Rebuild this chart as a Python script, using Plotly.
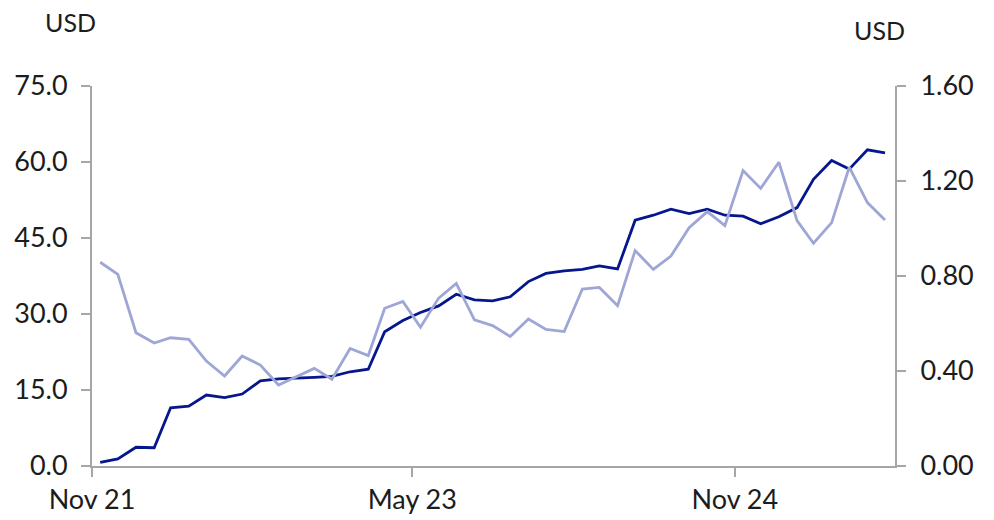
import plotly.graph_objects as go
import pandas as pd

# Monthly data, Nov 2021 - Jul 2025 (points plotted mid-month)
months = pd.date_range("2021-11-01", periods=45, freq="MS") + pd.Timedelta(days=14)

left_series = [0.7, 1.4, 3.7, 3.6, 11.5, 11.8, 14.0, 13.5, 14.2, 16.8,
               17.2, 17.3, 17.5, 17.7, 18.6, 19.1, 26.5, 28.7, 30.3, 31.6,
               33.9, 32.8, 32.6, 33.4, 36.4, 38.0, 38.5, 38.8, 39.5, 38.9,
               48.5, 49.5, 50.7, 49.8, 50.7, 49.5, 49.3, 47.8, 49.2, 51.0,
               56.6, 60.3, 58.6, 62.4, 61.8]

right_series = [0.858, 0.807, 0.561, 0.518, 0.540, 0.533, 0.442, 0.379, 0.463, 0.425,
                0.341, 0.376, 0.411, 0.365, 0.495, 0.465, 0.664, 0.693, 0.584, 0.707,
                0.769, 0.615, 0.591, 0.545, 0.619, 0.575, 0.566, 0.745, 0.752, 0.675,
                0.907, 0.828, 0.884, 1.003, 1.071, 1.012, 1.244, 1.169, 1.279, 1.033,
                0.938, 1.025, 1.258, 1.109, 1.036]

x_tick_vals = ["2021-11-01", "2023-05-01", "2024-11-01"]
x_tick_text = ["Nov 21", "May 23", "Nov 24"]
left_ticks = [0, 15, 30, 45, 60, 75]
right_ticks = [0, 0.4, 0.8, 1.2, 1.6]

AX = "#a6a6a6"
FONT = "Lato"
TEXT = "#1c1c1c"
TICKFONT = dict(family=FONT, size=27, color=TEXT)

fig = go.Figure()
fig.add_trace(go.Scatter(x=months, y=right_series, mode="lines", yaxis="y2",
                         line=dict(color="#9ea6d6", width=2.8), showlegend=False,
                         hoverinfo="skip"))
fig.add_trace(go.Scatter(x=months, y=left_series, mode="lines",
                         line=dict(color="#06168c", width=2.8), showlegend=False,
                         hoverinfo="skip"))

common = dict(showline=True, linecolor=AX, linewidth=2, ticks="outside", ticklen=9,
              tickcolor=AX, tickwidth=2, showgrid=False, zeroline=False,
              automargin=False, tickfont=TICKFONT)

fig.update_layout(
    width=994, height=520,
    margin=dict(l=92, r=99, t=86, b=54),
    paper_bgcolor="white", plot_bgcolor="white",
    font=dict(family=FONT, size=26, color=TEXT),
    xaxis=dict(range=["2021-11-01", "2025-08-01"], tickvals=x_tick_vals, ticktext=x_tick_text,
               **common),
    yaxis=dict(range=[0, 75], tickvals=left_ticks, tickformat=".1f",
               ticklabelstandoff=8, **common),
    yaxis2=dict(range=[0, 1.6], tickvals=right_ticks, tickformat=".2f", overlaying="y",
                side="right", ticklabelstandoff=9, **common),
)
fig.add_annotation(text="USD", xref="paper", yref="paper", x=0, y=1.0, xanchor="center",
                   yanchor="middle", xshift=-22, yshift=64, showarrow=False,
                   font=dict(family=FONT, size=25, color=TEXT))
fig.add_annotation(text="USD", xref="paper", yref="paper", x=1.0, y=1.0, xanchor="center",
                   yanchor="middle", xshift=-16, yshift=56, showarrow=False,
                   font=dict(family=FONT, size=25, color=TEXT))

fig.write_html("out.html", config={"displayModeBar": False},
               post_script="document.body.style.margin='0';")
